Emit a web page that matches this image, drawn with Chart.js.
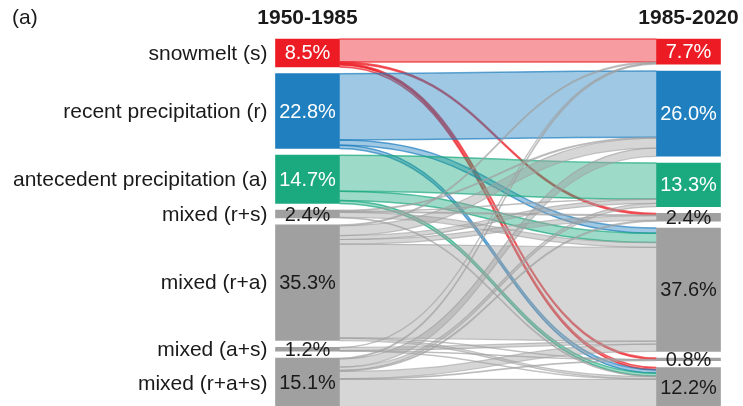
<!DOCTYPE html>
<html><head><meta charset="utf-8">
<script src="https://cdn.jsdelivr.net/npm/chart.js@4/dist/chart.umd.min.js"></script>
<style>html,body{margin:0;padding:0;background:#fff;}#wrap{width:743px;height:406px;}</style>
</head><body><div id="wrap"><canvas id="c" width="743" height="406"></canvas></div>
<script>
// ---------- data ----------
const panelLabel = '(a)';
const periods = ['1950-1985', '1985-2020'];
const categories = ['snowmelt (s)', 'recent precipitation (r)', 'antecedent precipitation (a)',
  'mixed (r+s)', 'mixed (r+a)', 'mixed (a+s)', 'mixed (r+a+s)'];
const share1950 = [8.5, 22.8, 14.7, 2.4, 35.3, 1.2, 15.1];
const share1985 = [7.7, 26.0, 13.3, 2.4, 37.6, 0.8, 12.2];
// transitions 1950-1985 class -> 1985-2020 class (targets in the order of categories), %
const fromSnowmelt   = [7.0, 0.0, 0.0, 0.4, 0.0, 0.4, 0.7];
const fromRecent     = [0.0, 20.2, 0.0, 0.0, 1.6, 0.0, 1.0];
const fromAntecedent = [0.0, 0.0, 11.0, 0.0, 2.8, 0.0, 0.9];
const fromMixedRS    = [0.0, 0.3, 0.1, 0.3, 1.5, 0.0, 0.2];
const fromMixedRA    = [0.3, 3.0, 1.2, 1.4, 28.6, 0.1, 0.7];
const fromMixedAS    = [0.1, 0.0, 0.0, 0.0, 0.9, 0.1, 0.1];
const fromMixedRAS   = [0.3, 2.5, 1.0, 0.3, 2.2, 0.2, 8.6];
const transitions = [fromSnowmelt, fromRecent, fromAntecedent, fromMixedRS, fromMixedRA, fromMixedAS, fromMixedRAS];

// ---------- style ----------
const FONT = '"Liberation Sans", Arial, sans-serif';
const nodeColors = ['#ed1c24', '#1f7fbf', '#1ba97f', '#a0a0a0', '#a0a0a0', '#a0a0a0', '#a0a0a0'];
const linkRGB = ['237,28,36', '31,127,191', '27,169,127', '160,160,160', '160,160,160', '160,160,160', '160,160,160'];
const pctColors = ['#fff', '#fff', '#fff', '#1a1a1a', '#1a1a1a', '#1a1a1a', '#1a1a1a'];
const GAP = 2.06;   // vertical padding between nodes, in % units
const Y_MAX = 111.9;

function tops(vals) {
  const out = []; let acc = 0;
  vals.forEach((v) => { out.push(acc); acc += v + GAP; });
  return out;
}
const top1950 = tops(share1950);
const top1985 = tops(share1985);

const datasets = categories.map((c, i) => ({
  label: c,
  data: [[top1950[i], top1950[i] + share1950[i]], [top1985[i], top1985[i] + share1985[i]]],
  backgroundColor: nodeColors[i],
  borderWidth: 0,
  grouped: false,
  barThickness: 64,
  clip: false
}));

const sankeyLinks = {
  id: 'sankeyLinks',
  beforeDatasetsDraw(chart) {
    const ctx = chart.ctx, ys = chart.scales.y;
    const tgtOffset = share1985.map(() => 0);
    const segs = [];
    transitions.forEach((row, i) => {
      let srcOff = 0;
      row.forEach((v, j) => {
        if (v <= 0) return;
        segs.push({ i, j, s0: top1950[i] + srcOff, t0: top1985[j] + tgtOffset[j], v });
        srcOff += v; tgtOffset[j] += v;
      });
    });
    ctx.save();
    segs.forEach(sg => {
      const lb = chart.getDatasetMeta(sg.i).data[0];
      const rb = chart.getDatasetMeta(sg.j).data[1];
      const x0 = lb.x + lb.width / 2, x1 = rb.x - rb.width / 2, xm = (x0 + x1) / 2;
      const a0 = ys.getPixelForValue(sg.s0), a1 = ys.getPixelForValue(sg.s0 + sg.v);
      const b0 = ys.getPixelForValue(sg.t0), b1 = ys.getPixelForValue(sg.t0 + sg.v);
      const grey = sg.i >= 3;
      ctx.beginPath();
      ctx.moveTo(x0, a0);
      ctx.bezierCurveTo(xm, a0, xm, b0, x1, b0);
      ctx.lineTo(x1, b1);
      ctx.bezierCurveTo(xm, b1, xm, a1, x0, a1);
      ctx.closePath();
      ctx.fillStyle = 'rgba(' + linkRGB[sg.i] + ',0.43)';
      ctx.fill();
      ctx.lineWidth = grey ? 1.2 : 1.5;
      ctx.strokeStyle = 'rgba(' + linkRGB[sg.i] + (grey ? ',0.6)' : ',0.7)');
      ctx.beginPath();
      ctx.moveTo(x0, a0); ctx.bezierCurveTo(xm, a0, xm, b0, x1, b0);
      ctx.moveTo(x0, a1); ctx.bezierCurveTo(xm, a1, xm, b1, x1, b1);
      ctx.stroke();
    });
    ctx.restore();
  }
};

const labelsPlugin = {
  id: 'labelsPlugin',
  afterDatasetsDraw(chart) {
    const ctx = chart.ctx;
    ctx.save();
    ctx.textBaseline = 'middle';
    ctx.font = '21px ' + FONT; ctx.fillStyle = '#1a1a1a'; ctx.textAlign = 'left';
    ctx.fillText(panelLabel, 12, 18);
    ctx.font = 'bold 21px ' + FONT; ctx.textAlign = 'center';
    periods.forEach((p, k) => {
      const b = chart.getDatasetMeta(0).data[k];
      ctx.fillText(p, b.x, 18);
    });
    categories.forEach((c, i) => {
      const meta = chart.getDatasetMeta(i);
      const lb = meta.data[0], rb = meta.data[1];
      const lc = (lb.y + lb.base) / 2, rc = (rb.y + rb.base) / 2;
      ctx.font = '21px ' + FONT; ctx.fillStyle = '#1a1a1a'; ctx.textAlign = 'right';
      ctx.fillText(c, lb.x - lb.width / 2 - 8, lc + 1);
      ctx.font = '20px ' + FONT; ctx.fillStyle = pctColors[i]; ctx.textAlign = 'center';
      ctx.fillText(share1950[i].toFixed(1) + '%', lb.x, lc + 1);
      ctx.fillText(share1985[i].toFixed(1) + '%', rb.x, rc + 1);
    });
    ctx.restore();
  }
};

new Chart(document.getElementById('c'), {
  type: 'bar',
  data: { labels: periods, datasets },
  options: {
    responsive: false,
    animation: false,
    devicePixelRatio: 1,
    layout: { padding: { left: 307.5, right: 54.5, top: 39, bottom: 0 } },
    plugins: { legend: { display: false }, tooltip: { enabled: false } },
    scales: {
      x: { type: 'category', offset: false, display: false },
      y: { type: 'linear', min: 0, max: Y_MAX, reverse: true, display: false }
    }
  },
  plugins: [sankeyLinks, labelsPlugin]
});
</script>
</body></html>
